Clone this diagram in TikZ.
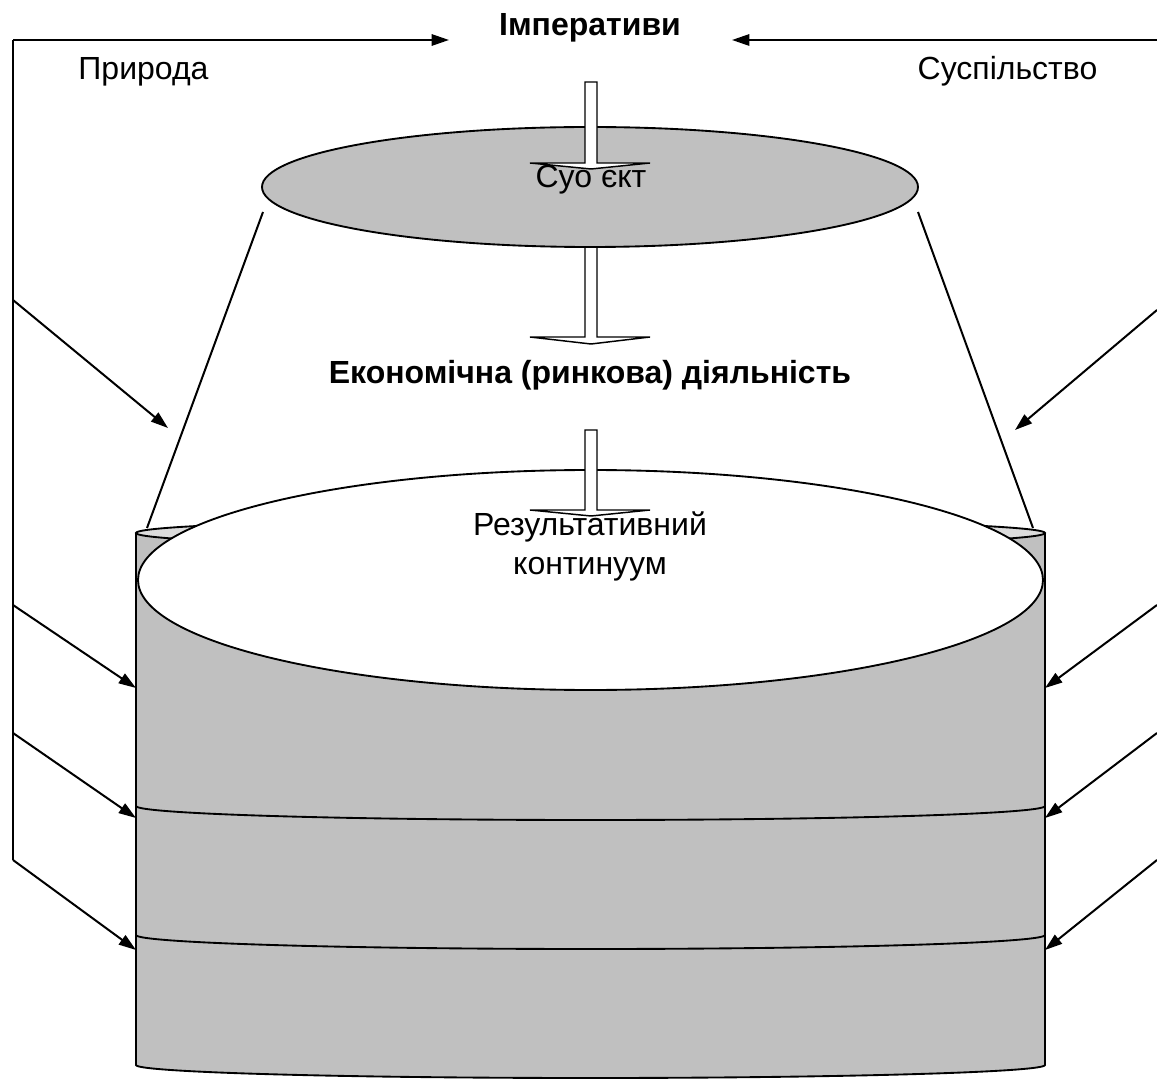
\documentclass[tikz,border=0pt]{standalone}
\usepackage{fontspec}
\setmainfont{Liberation Sans}
\usetikzlibrary{arrows.meta}
\definecolor{bodyg}{HTML}{C0C0C0}
\definecolor{capg}{HTML}{DCDCDC}
\newcommand{\myblockarrow}[3]{%
  \filldraw[blockarr] (585,#1) -- (585,#2) -- (530,#2) -- (591,#2+#3) -- (650,#2) -- (597,#2) -- (597,#1) -- cycle;}
\begin{document}
\begin{tikzpicture}[x=0.75pt,y=-0.75pt,
  thinline/.style={line width=1.5pt,black},
  arr/.style={thinline,-{Triangle[length=13pt,width=8.5pt]}},
  blockarr/.style={line width=1.1pt,draw=black,fill=white},
  lbl/.style={inner sep=0pt,font=\fontsize{24}{28}\selectfont},
  shape outline/.style={line width=1.4pt,draw=black}]
\useasboundingbox (0,0) rectangle (1157,1080);

% cylinder body
\fill[bodyg] (136,533) -- (136,1065) arc[start angle=180,end angle=0,x radius=454.5,y radius=13]
  -- (1045,533) arc[start angle=0,end angle=180,x radius=454.5,y radius=14] -- cycle;
\draw[shape outline] (136,533) -- (136,1065) arc[start angle=180,end angle=0,x radius=454.5,y radius=13] -- (1045,533);
\draw[shape outline] (136,806) arc[start angle=180,end angle=0,x radius=454.5,y radius=14];
\draw[shape outline] (136,935) arc[start angle=180,end angle=0,x radius=454.5,y radius=14];
% cap
\filldraw[shape outline,fill=capg] (590.5,533) ellipse[x radius=454.5,y radius=14];
% result ellipse
\filldraw[shape outline,fill=white] (590.5,580) ellipse[x radius=452.5,y radius=110];

% converging lines
\coordinate (l1) at (263,212); \coordinate (l2) at (147,528);
\coordinate (r1) at (918,212); \coordinate (r2) at (1033,528);
\draw[thinline] (l1) -- (l2);
\draw[thinline] (r1) -- (r2);

% block arrow 2 (below subject ellipse)
\myblockarrow{240}{337}{7}
% subject ellipse
\filldraw[shape outline,fill=bodyg] (590,187) ellipse[x radius=328,y radius=60];
% block arrows 1 and 3
\myblockarrow{82}{163}{6}
\myblockarrow{430}{510}{6}

% frame lines
\coordinate (tl) at (13,40); \coordinate (tlend) at (449,40);
\coordinate (tr) at (1157,40); \coordinate (trend) at (732,40);
\coordinate (bl) at (13,860);
\draw[thinline] (bl) -- (tl);
\draw[arr] (tl) -- (tlend);
\draw[arr] (tr) -- (trend);

% left arrows
\coordinate (la1) at (13,300); \coordinate (lb1) at (168,428);
\coordinate (la2) at (13,605); \coordinate (lb2) at (136,688);
\coordinate (la3) at (13,733); \coordinate (lb3) at (136,818);
\coordinate (la4) at (13,860); \coordinate (lb4) at (136,950);
\draw[arr] (la1) -- (lb1);
\draw[arr] (la2) -- (lb2);
\draw[arr] (la3) -- (lb3);
\draw[arr] (la4) -- (lb4);
% right arrows
\coordinate (ra1) at (1157,310); \coordinate (rb1) at (1015,430);
\coordinate (ra2) at (1157,605); \coordinate (rb2) at (1045,688);
\coordinate (ra3) at (1157,733); \coordinate (rb3) at (1045,818);
\coordinate (ra4) at (1157,860); \coordinate (rb4) at (1045,950);
\draw[arr] (ra1) -- (rb1);
\draw[arr] (ra2) -- (rb2);
\draw[arr] (ra3) -- (rb3);
\draw[arr] (ra4) -- (rb4);

% texts
\node[lbl,anchor=base] (imp) at (590,36) {\textbf{Імперативи}};
\node[lbl,anchor=base] (pryr) at (143.5,80) {Природа};
\node[lbl,anchor=base] (susp) at (1007.5,80) {Суспільство};
\node[lbl,anchor=base] (subj) at (591,188) {Суо єкт};
\node[lbl,anchor=base] (econ) at (590,384) {\textbf{Економічна (ринкова) діяльність}};
\node[lbl,anchor=base] (res1) at (590,536) {Результативний};
\node[lbl,anchor=base] (res2) at (590,574) {континуум};
\end{tikzpicture}
\end{document}
